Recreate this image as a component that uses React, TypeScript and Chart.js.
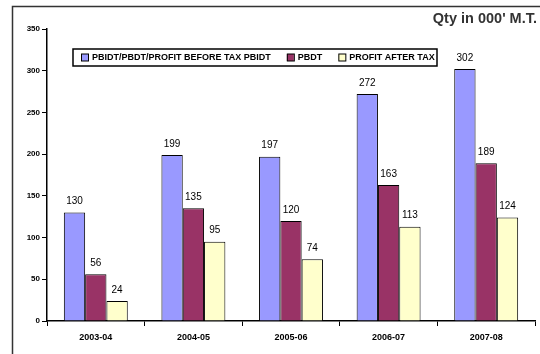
import React, { useEffect, useRef } from "react";
import { Chart, registerables } from "chart.js";

Chart.register(...registerables);

const categories = ["2003-04", "2004-05", "2005-06", "2006-07", "2007-08"];
const pbidt = [130, 199, 197, 272, 302];
const pbdt = [56, 135, 120, 163, 189];
const pat = [24, 95, 74, 113, 124];
const seriesNames = ["PBIDT/PBDT/PROFIT BEFORE TAX PBIDT", "PBDT", "PROFIT AFTER TAX"];
const seriesColors = ["#9999FF", "#993366", "#FFFFCC"];
const yTicks = [0, 50, 100, 150, 200, 250, 300, 350];
const titleText = "Qty in 000' M.T.";

const FONT = "'Liberation Sans Narrow', 'Liberation Sans', Arial, sans-serif";

const decorPlugin = {
  id: "decor",
  beforeDraw(chart: any) {
    const ctx = chart.ctx;
    ctx.save();
    ctx.strokeStyle = "#333";
    ctx.lineWidth = 1.5;
    ctx.strokeRect(12.5, 6.5, 600, 400);
    ctx.restore();
  },
  afterDraw(chart: any) {
    const ctx = chart.ctx;
    ctx.save();
    // title
    ctx.font = "bold 14.5px 'Liberation Sans', Arial, sans-serif";
    ctx.fillStyle = "#333";
    ctx.textAlign = "right";
    ctx.textBaseline = "middle";
    ctx.fillText(titleText, 537, 19);
    // data labels
    ctx.font = "10px " + FONT;
    ctx.fillStyle = "#000";
    ctx.textAlign = "center";
    ctx.textBaseline = "middle";
    chart.data.datasets.forEach((ds: any, i: number) => {
      const meta = chart.getDatasetMeta(i);
      meta.data.forEach((bar: any, j: number) => {
        ctx.fillText(String(ds.data[j]), bar.x, bar.y - 11);
      });
    });
    // legend
    const lx = 73, ly = 49, lw = 364, lh = 17;
    ctx.fillStyle = "#fff";
    ctx.fillRect(lx, ly, lw, lh);
    ctx.strokeStyle = "#000";
    ctx.lineWidth = 1.5;
    ctx.strokeRect(lx, ly, lw, lh);
    ctx.font = "bold 9px " + FONT;
    ctx.textAlign = "left";
    let x = lx + 8;
    const cy = ly + lh / 2;
    seriesNames.forEach((name, i) => {
      ctx.fillStyle = seriesColors[i];
      ctx.fillRect(x, cy - 3.5, 7, 7);
      ctx.lineWidth = 1;
      ctx.strokeStyle = "#000";
      ctx.strokeRect(x + 0.5, cy - 3.5, 7, 7);
      ctx.fillStyle = "#000";
      ctx.fillText(name, x + 11, cy + 0.5);
      x += 11 + ctx.measureText(name).width + 16;
    });
    ctx.restore();
  },
};

export default function App() {
  const ref = useRef<HTMLCanvasElement>(null);
  useEffect(() => {
    document.body.style.margin = "0";
    const chart = new Chart(ref.current as HTMLCanvasElement, {
      type: "bar",
      data: {
        labels: categories,
        datasets: [pbidt, pbdt, pat].map((d, i) => ({
          label: seriesNames[i],
          data: d,
          backgroundColor: seriesColors[i],
          borderColor: "#000",
          borderWidth: 1,
          barPercentage: 1,
          categoryPercentage: 0.655,
        })),
      },
      options: {
        animation: false,
        responsive: false,
        layout: { padding: { top: 29, right: 5, left: 0, bottom: 0 } },
        plugins: { legend: { display: false }, tooltip: { enabled: false }, title: { display: false } },
        scales: {
          x: {
            grid: { display: true, drawOnChartArea: false, drawTicks: true, tickLength: 5, color: "#000", offset: true },
            border: { display: true, color: "#000", width: 1.5 },
            ticks: { color: "#000", font: { family: FONT, size: 9, weight: "bold" }, padding: 6 },
            afterFit: (s: any) => { s.height = 33; },
          },
          y: {
            min: 0,
            max: 350,
            afterBuildTicks: (s: any) => { s.ticks = yTicks.map((v) => ({ value: v })); },
            grid: { display: true, drawOnChartArea: false, drawTicks: true, tickLength: 5, color: "#000" },
            border: { display: true, color: "#000", width: 1.5 },
            ticks: { color: "#000", font: { family: FONT, size: 8, weight: "bold" }, padding: 2 },
            afterFit: (s: any) => { s.width = 47; },
          },
        },
      },
      plugins: [decorPlugin],
    } as any);
    return () => chart.destroy();
  }, []);
  return <canvas ref={ref} width={540} height={354} style={{ display: "block" }} />;
}
